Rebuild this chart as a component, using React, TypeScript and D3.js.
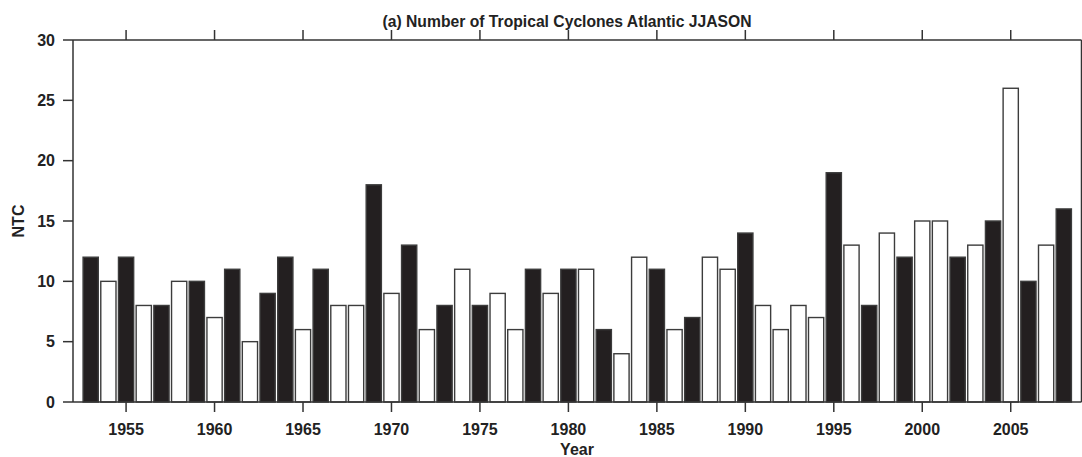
import React from "react";
import * as d3 from "d3";

const years: number[] = d3.range(1953, 2009);
const ntc: number[] = [
  12, 10, 12, 8, 8, 10, 10, 7, 11, 5, 9, 12, 6, 11, 8, 8, 18, 9, 13, 6,
  8, 11, 8, 9, 6, 11, 9, 11, 11, 6, 4, 12, 11, 6, 7, 12, 11, 14, 8, 6,
  8, 7, 19, 13, 8, 14, 12, 15, 15, 12, 13, 15, 26, 10, 13, 16,
];
// 1 = black (filled), 0 = white (open)
const filled: number[] = [
  1, 0, 1, 0, 1, 0, 1, 0, 1, 0, 1, 1, 0, 1, 0, 0, 1, 0, 1, 0,
  1, 0, 1, 0, 0, 1, 0, 1, 0, 1, 0, 0, 1, 0, 1, 0, 0, 1, 0, 0,
  0, 0, 1, 0, 1, 0, 1, 0, 0, 1, 0, 1, 0, 1, 0, 1,
];
const xTicks: number[] = [1955, 1960, 1965, 1970, 1975, 1980, 1985, 1990, 1995, 2000, 2005];
const yTicks: number[] = [0, 5, 10, 15, 20, 25, 30];
const title = "(a) Number of Tropical Cyclones Atlantic JJASON";

const W = 1082;
const H = 457;
const L = 73;
const R = 1081.5;
const T = 40;
const B = 402;

export default function App() {
  const x = d3.scaleLinear().domain([1952, 2009]).range([L, R]);
  const y = d3.scaleLinear().domain([0, 30]).range([B, T]);
  const step = x(1954) - x(1953);
  const bw = step * 0.86;
  const axisColor = "#333";
  const font = "'Liberation Sans', Arial, Helvetica, sans-serif";
  return (
    <svg
      width={W}
      height={H}
      style={{ position: "absolute", left: 0, top: 0, background: "#fff" }}
      fontFamily={font}
    >
      {years.map((yr, i) => (
        <rect
          key={yr}
          x={x(yr) - bw / 2}
          y={y(ntc[i])}
          width={bw}
          height={y(0) - y(ntc[i])}
          fill={filled[i] ? "#231f20" : "#ffffff"}
          stroke="#3c3c3c"
          strokeWidth={1.4}
        />
      ))}
      {/* frame */}
      <line x1={L} x2={L} y1={T} y2={B} stroke={axisColor} strokeWidth={1.5} />
      <line x1={L} x2={R} y1={B} y2={B} stroke={axisColor} strokeWidth={1.5} />
      <line x1={L} x2={R} y1={T} y2={T} stroke={axisColor} strokeWidth={1.5} />
      <line x1={R} x2={R} y1={T} y2={B} stroke={axisColor} strokeWidth={1.5} />
      {yTicks.map((t) => (
        <g key={t}>
          <line x1={L - 10} x2={L} y1={y(t)} y2={y(t)} stroke={axisColor} strokeWidth={1.5} />
          <text
            x={55}
            y={y(t)}
            dy="0.36em"
            textAnchor="end"
            fontSize={16}
            fontWeight="bold"
            fill="#222"
          >
            {t}
          </text>
        </g>
      ))}
      {xTicks.map((t) => (
        <g key={t}>
          <line x1={x(t)} x2={x(t)} y1={B} y2={B + 10} stroke={axisColor} strokeWidth={1.5} />
          <line x1={x(t)} x2={x(t)} y1={T} y2={T - 10} stroke={axisColor} strokeWidth={1.5} />
          <text
            x={x(t)}
            y={434.5}
            textAnchor="middle"
            fontSize={16}
            fontWeight="bold"
            fill="#222"
          >
            {t}
          </text>
        </g>
      ))}
      <text x={567} y={26.5} textAnchor="middle" fontSize={15.7} fontWeight="bold" fill="#222">
        {title}
      </text>
      <text x={577} y={455} textAnchor="middle" fontSize={16} fontWeight="bold" fill="#222">
        Year
      </text>
      <text
        transform={`translate(24, 221) rotate(-90)`}
        textAnchor="middle"
        fontSize={16}
        fontWeight="bold"
        fill="#222"
      >
        NTC
      </text>
    </svg>
  );
}
